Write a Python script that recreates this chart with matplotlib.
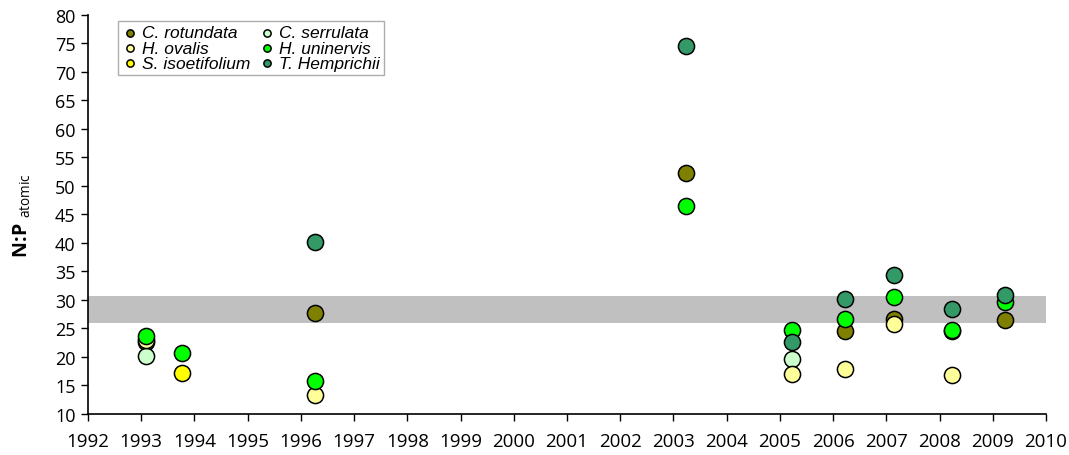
import matplotlib.pyplot as plt
import numpy as np

plt.rcParams['font.family'] = ['Open Sans', 'DejaVu Sans']
plt.rcParams['mathtext.fontset'] = 'custom'
plt.rcParams['mathtext.rm'] = 'Open Sans'
plt.rcParams['mathtext.bf'] = 'Open Sans:bold'

# species data (year, N:P atomic)
species = ['C. rotundata', 'C. serrulata', 'H. ovalis', 'H. uninervis', 'S. isoetifolium', 'T. Hemprichii']
colors = ['#808000', '#CCFFCC', '#FFFF99', '#00FF00', '#FFFF00', '#339966']

rot_x = [1993.09, 1996.26, 2003.24, 2006.23, 2007.14, 2008.23, 2009.23]
rot_y = [22.6, 27.8, 52.2, 24.5, 26.7, 24.6, 26.4]
ser_x = [1993.09, 2005.23]
ser_y = [20.2, 19.6]
ova_x = [1993.09, 1996.26, 2005.23, 2006.23, 2007.14, 2008.23]
ova_y = [22.9, 13.3, 17.0, 17.9, 25.8, 16.8]
uni_x = [1993.09, 1993.77, 1996.26, 2003.24, 2005.23, 2006.23, 2007.14, 2008.23, 2009.23]
uni_y = [23.7, 20.7, 15.8, 46.4, 24.8, 26.7, 30.5, 24.8, 29.7]
iso_x = [1993.77]
iso_y = [17.2]
hem_x = [1996.26, 2003.24, 2005.23, 2006.23, 2007.14, 2008.23, 2009.23]
hem_y = [40.1, 74.5, 22.6, 30.2, 34.4, 28.4, 30.8]

band_lo, band_hi = 25.9, 30.7

xs = [rot_x, ser_x, ova_x, uni_x, iso_x, hem_x]
ys = [rot_y, ser_y, ova_y, uni_y, iso_y, hem_y]

fig = plt.figure(figsize=(10.69, 4.56), dpi=100)
ax = fig.add_axes([0.0823, 0.090, 0.8962, 0.875])

ax.axhspan(band_lo, band_hi, color='#C0C0C0', lw=0, zorder=1)

handles = {}
for name, c, x, y in zip(species, colors, xs, ys):
    h = ax.scatter(x, y, s=135, c=c, edgecolors='black', linewidths=1.1, zorder=3, label=name)
    handles[name] = h

ax.set_xlim(1992, 2010)
ax.set_ylim(10, 80)
ax.set_xticks(np.arange(1992, 2011, 1))
ax.set_yticks(np.arange(10, 81, 5))
ax.tick_params(direction='out', length=5, width=1)
ax.tick_params(axis='x', labelsize=13.5, pad=8)
ax.tick_params(axis='y', labelsize=13, pad=4)
for s in ['top', 'right']:
    ax.spines[s].set_visible(False)
for s in ['left', 'bottom']:
    ax.spines[s].set_linewidth(1.2)

ax.set_ylabel(r'$\mathbf{N\!:\!P}$ $_{\rm atomic}$', fontsize=14, labelpad=16)

order = ['C. rotundata', 'H. ovalis', 'S. isoetifolium', 'C. serrulata', 'H. uninervis', 'T. Hemprichii']
leg = ax.legend([handles[n] for n in order], order, ncol=2, loc='upper left',
                bbox_to_anchor=(0.031, 0.985), borderaxespad=0, fancybox=False, edgecolor='#999999',
                markerscale=0.45, handletextpad=0.25, columnspacing=0.5, labelspacing=0.0,
                borderpad=0.25, handlelength=0.9,
                prop={'family': 'Liberation Sans', 'style': 'italic', 'size': 12.5})
leg.get_frame().set_linewidth(1.0)

fig.savefig('out.png', dpi=100)
